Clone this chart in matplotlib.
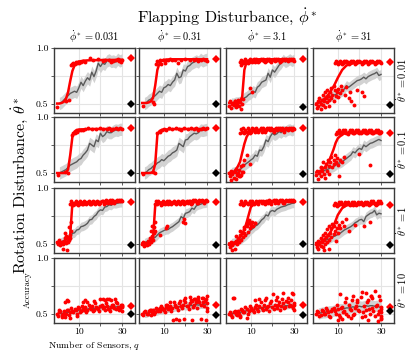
import matplotlib
matplotlib.use("Agg")
import matplotlib.pyplot as plt

plt.rcParams['font.family'] = 'cmr10'
plt.rcParams['mathtext.fontset'] = 'cm'
plt.rcParams['axes.unicode_minus'] = False

# ---- labels ----
col_labels = [r'$\dot{\phi}^* = 0.031$', r'$\dot{\phi}^* = 0.31$',
              r'$\dot{\phi}^* = 3.1$', r'$\dot{\phi}^* = 31$']
row_labels = [r'$\dot{\theta}^* = 0.01$', r'$\dot{\theta}^* = 0.1$',
              r'$\dot{\theta}^* = 1$', r'$\dot{\theta}^* = 10$']
x_ticks = [10, 20, 30]
x_tick_labels = ['10', '', '30']
y_ticks = [0.5, 0.75, 1.0]
y_tick_labels = ['0.5', '', '1.0']

# ---- fitted curve (red line), rows 1-3 ----
curve_x = [0, 1, 2, 3, 4, 5, 6, 7, 8, 9, 10, 12, 14, 17, 20, 25, 30]
curve_y = [
    [0.50, 0.50, 0.505, 0.515, 0.54, 0.60, 0.70, 0.79, 0.84, 0.865, 0.875, 0.882, 0.885, 0.887, 0.888, 0.889, 0.89],
    [0.505, 0.505, 0.505, 0.51, 0.52, 0.55, 0.66, 0.80, 0.86, 0.88, 0.89, 0.893, 0.895, 0.895, 0.895, 0.895, 0.895],
    [0.505, 0.505, 0.505, 0.507, 0.51, 0.52, 0.56, 0.80, 0.87, 0.885, 0.89, 0.893, 0.895, 0.895, 0.895, 0.895, 0.895],
    [0.50, 0.505, 0.515, 0.53, 0.545, 0.565, 0.59, 0.62, 0.65, 0.69, 0.73, 0.80, 0.84, 0.86, 0.865, 0.868, 0.87],
    [0.50, 0.50, 0.50, 0.50, 0.505, 0.53, 0.66, 0.82, 0.87, 0.885, 0.888, 0.89, 0.892, 0.893, 0.893, 0.893, 0.893],
    [0.50, 0.50, 0.50, 0.50, 0.502, 0.51, 0.58, 0.84, 0.875, 0.885, 0.888, 0.89, 0.892, 0.893, 0.893, 0.893, 0.893],
    [0.50, 0.505, 0.51, 0.53, 0.56, 0.60, 0.68, 0.76, 0.82, 0.855, 0.87, 0.88, 0.885, 0.888, 0.89, 0.892, 0.893],
    [0.505, 0.51, 0.52, 0.535, 0.55, 0.58, 0.61, 0.66, 0.71, 0.77, 0.81, 0.845, 0.86, 0.865, 0.868, 0.87, 0.87],
    [0.51, 0.51, 0.51, 0.515, 0.52, 0.53, 0.58, 0.86, 0.868, 0.87, 0.872, 0.873, 0.875, 0.876, 0.877, 0.878, 0.88],
    [0.505, 0.505, 0.505, 0.51, 0.52, 0.55, 0.84, 0.865, 0.87, 0.872, 0.873, 0.874, 0.875, 0.876, 0.877, 0.878, 0.88],
    [0.505, 0.505, 0.51, 0.52, 0.535, 0.56, 0.59, 0.63, 0.69, 0.76, 0.83, 0.865, 0.872, 0.875, 0.876, 0.878, 0.88],
    [0.51, 0.515, 0.52, 0.53, 0.545, 0.565, 0.59, 0.62, 0.66, 0.71, 0.76, 0.82, 0.845, 0.857, 0.862, 0.865, 0.866],
]

# ---- mean accuracy (gray line) and its spread ----
gray_x = [1, 2, 3, 4, 5, 6, 7, 8, 9, 10, 11, 12, 13, 14, 15,
          16, 17, 18, 19, 20, 21, 22, 23, 24, 25, 26, 27, 28, 29, 30]
gray_y = [
    [0.50, 0.51, 0.53, 0.55, 0.57, 0.59, 0.60, 0.61, 0.60, 0.64, 0.69, 0.66, 0.70, 0.73, 0.71, 0.78, 0.74, 0.79, 0.86, 0.83, 0.86, 0.85, 0.88, 0.89, 0.875, 0.88, 0.87, 0.895, 0.88, 0.89],
    [0.50, 0.51, 0.53, 0.54, 0.56, 0.57, 0.59, 0.61, 0.60, 0.64, 0.65, 0.67, 0.66, 0.69, 0.71, 0.77, 0.73, 0.74, 0.80, 0.79, 0.83, 0.84, 0.86, 0.87, 0.88, 0.87, 0.895, 0.88, 0.89, 0.895],
    [0.50, 0.50, 0.51, 0.51, 0.515, 0.53, 0.55, 0.56, 0.58, 0.59, 0.61, 0.60, 0.645, 0.66, 0.69, 0.70, 0.71, 0.77, 0.735, 0.80, 0.78, 0.81, 0.84, 0.86, 0.89, 0.87, 0.88, 0.895, 0.88, 0.89],
    [0.505, 0.51, 0.52, 0.535, 0.545, 0.555, 0.565, 0.575, 0.58, 0.59, 0.60, 0.61, 0.63, 0.66, 0.645, 0.66, 0.675, 0.69, 0.705, 0.71, 0.72, 0.736, 0.72, 0.74, 0.75, 0.76, 0.767, 0.78, 0.75, 0.76],
    [0.50, 0.51, 0.52, 0.53, 0.55, 0.57, 0.58, 0.59, 0.60, 0.62, 0.63, 0.66, 0.68, 0.705, 0.765, 0.75, 0.735, 0.795, 0.78, 0.855, 0.825, 0.84, 0.87, 0.86, 0.86, 0.875, 0.884, 0.88, 0.89, 0.89],
    [0.50, 0.51, 0.53, 0.54, 0.56, 0.57, 0.59, 0.60, 0.62, 0.61, 0.63, 0.65, 0.66, 0.68, 0.69, 0.705, 0.765, 0.75, 0.735, 0.795, 0.80, 0.825, 0.84, 0.855, 0.85, 0.86, 0.884, 0.88, 0.885, 0.89],
    [0.50, 0.505, 0.51, 0.52, 0.53, 0.55, 0.57, 0.586, 0.60, 0.616, 0.63, 0.66, 0.65, 0.705, 0.70, 0.735, 0.795, 0.78, 0.825, 0.855, 0.84, 0.85, 0.87, 0.86, 0.878, 0.87, 0.885, 0.89, 0.88, 0.89],
    [0.51, 0.515, 0.52, 0.525, 0.53, 0.54, 0.55, 0.557, 0.57, 0.587, 0.59, 0.60, 0.616, 0.63, 0.646, 0.66, 0.69, 0.68, 0.705, 0.72, 0.71, 0.75, 0.735, 0.75, 0.765, 0.77, 0.78, 0.79, 0.80, 0.79],
    [0.51, 0.52, 0.53, 0.54, 0.55, 0.56, 0.595, 0.60, 0.625, 0.63, 0.655, 0.66, 0.67, 0.685, 0.715, 0.72, 0.745, 0.76, 0.79, 0.805, 0.80, 0.83, 0.835, 0.85, 0.845, 0.863, 0.86, 0.865, 0.87, 0.87],
    [0.51, 0.52, 0.525, 0.536, 0.55, 0.56, 0.58, 0.60, 0.61, 0.62, 0.628, 0.63, 0.645, 0.655, 0.67, 0.685, 0.70, 0.745, 0.73, 0.774, 0.78, 0.79, 0.82, 0.81, 0.84, 0.85, 0.855, 0.863, 0.865, 0.87],
    [0.51, 0.515, 0.52, 0.53, 0.536, 0.55, 0.565, 0.58, 0.60, 0.625, 0.64, 0.66, 0.67, 0.69, 0.715, 0.73, 0.76, 0.75, 0.79, 0.80, 0.79, 0.81, 0.82, 0.83, 0.835, 0.84, 0.85, 0.855, 0.863, 0.865],
    [0.515, 0.52, 0.525, 0.53, 0.54, 0.545, 0.555, 0.566, 0.575, 0.585, 0.595, 0.61, 0.625, 0.635, 0.645, 0.655, 0.67, 0.69, 0.70, 0.715, 0.72, 0.70, 0.745, 0.76, 0.774, 0.78, 0.80, 0.76, 0.775, 0.77],
    [0.50, 0.50, 0.505, 0.51, 0.51, 0.515, 0.52, 0.52, 0.525, 0.53, 0.53, 0.535, 0.54, 0.54, 0.545, 0.55, 0.545, 0.55, 0.555, 0.55, 0.555, 0.56, 0.555, 0.56, 0.56, 0.555, 0.56, 0.56, 0.565, 0.56],
    [0.50, 0.50, 0.51, 0.51, 0.515, 0.52, 0.52, 0.53, 0.53, 0.535, 0.54, 0.545, 0.55, 0.55, 0.555, 0.56, 0.56, 0.565, 0.57, 0.565, 0.57, 0.575, 0.57, 0.575, 0.58, 0.575, 0.58, 0.58, 0.585, 0.58],
    [0.50, 0.50, 0.505, 0.51, 0.51, 0.515, 0.52, 0.525, 0.53, 0.53, 0.535, 0.54, 0.545, 0.545, 0.55, 0.555, 0.55, 0.555, 0.56, 0.56, 0.565, 0.56, 0.565, 0.57, 0.565, 0.57, 0.57, 0.575, 0.57, 0.575],
    [0.50, 0.505, 0.51, 0.51, 0.515, 0.52, 0.52, 0.525, 0.53, 0.535, 0.54, 0.54, 0.545, 0.55, 0.55, 0.555, 0.56, 0.555, 0.56, 0.565, 0.56, 0.565, 0.57, 0.565, 0.57, 0.57, 0.565, 0.57, 0.56, 0.55],
]
gray_spread = [0.055, 0.055, 0.05, 0.045,
               0.055, 0.055, 0.05, 0.045,
               0.04, 0.04, 0.04, 0.04,
               0.025, 0.035, 0.03, 0.05]

# ---- individual runs (red dots): scattered points ----
dots_x = [
    [0, 4, 5.5, 6.5, 7, 7.5, 8, 8.5, 9, 9.5, 10, 11, 12, 13, 15, 16.5, 19, 21, 22, 24, 25, 26, 27, 28, 28.5, 29, 29.5, 30],
    [0.3, 5, 5.5, 6.3, 7, 8, 8.8, 9.5, 10.4, 11, 12, 13, 14, 15, 16.5, 18, 20, 22, 24, 25, 26, 27, 28, 29, 30],
    [0, 0.5, 1, 1.5, 2, 2.5, 3, 3.5, 4, 4.5, 5, 5.5, 6, 6.5, 2.7, 9.6, 10.5, 5.6],
    [0, 0.5, 1, 1, 1.5, 2, 2, 2.5, 3, 3, 3.5, 4, 4, 4.5, 5, 5, 5.5, 6, 6, 6.5, 7, 7, 7.5, 8, 8, 8.5, 9, 9.5, 10, 10, 11, 11.5, 12, 13.5, 15, 16.1, 17.6, 14, 15.5, 19, 21, 22],
    [0.5, 3.6, 5, 6.7, 7.2, 8.2, 9, 10, 11, 12, 13, 14.4, 16, 18, 20, 21, 23, 24, 25, 26, 27, 28, 29, 30],
    [0.35, 5, 6, 7, 8, 9, 10, 11, 12.5, 14, 15.5, 17, 18, 19.5, 21, 22.5, 24, 25, 26, 27, 28, 29, 30],
    [0, 0.5, 1, 1.5, 2, 2.5, 3, 3.5, 4, 4.5, 5, 5.5, 6, 6.5, 1, 3, 5.6, 6.5, 7, 8, 9.5, 4.5],
    [0, 0.5, 1, 1.5, 2, 2, 2.5, 3, 3.5, 4, 4, 4.5, 5, 5.5, 6, 6, 6.5, 7, 7.5, 8, 8, 8.5, 9, 9.5, 10, 10.4, 11, 12, 13, 25, 20],
    [0, 0.5, 1, 1.5, 2, 2.5, 3, 3.5, 4, 4.5, 5, 5.5, 6, 6.5, 2.8, 4.4, 3.6, 4.2, 5.5, 6, 6.5],
    [0, 0.5, 1, 1.5, 2, 2.5, 3, 3.5, 4, 4.5, 5, 5.5, 6, 5.5, 6, 11, 11.5, 19, 19.5, 20, 8, 4, 4.5],
    [0, 0.5, 1, 1.5, 2, 2.5, 3, 3.5, 4, 4.5, 5, 5.5, 6, 6.5, 7, 7.5, 8, 8.5, 9, 9.5, 10, 10.5, 11, 12, 6.8, 8.4, 9.2, 10, 11.9, 7, 5, 3, 1.5],
    [0, 0.5, 1, 1, 1.5, 2, 2, 2.5, 3, 3, 3.5, 4, 4, 4.5, 5, 5, 5.5, 6, 6, 6.5, 7, 7, 7.5, 8, 8, 8.5, 9, 9.5, 10, 10.5, 11, 12, 13, 14, 15, 18, 22, 25, 3.5, 6, 9],
    [3.6, 5.1, 4.5, 13, 14, 20, 21, 22, 23, 24, 25, 26.8, 2, 6, 9, 12, 17, 27, 30, 30, 30, 1],
    [14.2, 15.5, 17, 19.5, 23, 27, 29.5, 20, 22, 24, 26, 28, 30, 30, 30, 4, 8, 11, 13],
    [1.7, 2.2, 20.2, 24.8, 29.1, 29.6, 17, 12, 8, 5, 14, 22, 27, 30, 30],
    [10.8, 17, 23.2, 25.5, 27, 10, 28.8, 30, 30, 30, 30, 30, 14, 19, 21, 24, 26, 29, 12, 16],
]
dots_y = [
    [0.47, 0.52, 0.53, 0.84, 0.85, 0.86, 0.85, 0.87, 0.86, 0.87, 0.86, 0.87, 0.88, 0.87, 0.905, 0.89, 0.9, 0.88, 0.89, 0.89, 0.87, 0.88, 0.89, 0.9, 0.88, 0.89, 0.87, 0.89],
    [0.48, 0.51, 0.5, 0.85, 0.88, 0.89, 0.85, 0.89, 0.86, 0.89, 0.89, 0.9, 0.89, 0.89, 0.86, 0.89, 0.9, 0.89, 0.89, 0.9, 0.88, 0.89, 0.9, 0.89, 0.88],
    [0.48, 0.52, 0.46, 0.50, 0.49, 0.52, 0.47, 0.50, 0.53, 0.48, 0.51, 0.45, 0.50, 0.54, 0.52, 0.64, 0.60, 0.845],
    [0.50, 0.46, 0.52, 0.48, 0.55, 0.50, 0.45, 0.53, 0.58, 0.49, 0.52, 0.60, 0.47, 0.55, 0.51, 0.62, 0.57, 0.53, 0.48, 0.60, 0.55, 0.64, 0.58, 0.52, 0.66, 0.62, 0.57, 0.60, 0.56, 0.63, 0.59, 0.66, 0.62, 0.58, 0.55, 0.52, 0.49, 0.65, 0.60, 0.62, 0.60, 0.57],
    [0.48, 0.51, 0.5, 0.84, 0.86, 0.855, 0.87, 0.88, 0.885, 0.88, 0.89, 0.9, 0.89, 0.89, 0.9, 0.89, 0.89, 0.9, 0.88, 0.89, 0.9, 0.89, 0.9, 0.89],
    [0.49, 0.51, 0.5, 0.86, 0.87, 0.88, 0.89, 0.885, 0.9, 0.89, 0.9, 0.89, 0.88, 0.9, 0.89, 0.9, 0.89, 0.9, 0.885, 0.89, 0.9, 0.89, 0.9],
    [0.50, 0.47, 0.52, 0.49, 0.46, 0.51, 0.54, 0.48, 0.50, 0.53, 0.47, 0.56, 0.51, 0.57, 0.44, 0.45, 0.48, 0.51, 0.62, 0.66, 0.58, 0.47],
    [0.48, 0.52, 0.45, 0.50, 0.55, 0.47, 0.52, 0.60, 0.49, 0.55, 0.46, 0.58, 0.52, 0.62, 0.56, 0.49, 0.60, 0.64, 0.55, 0.62, 0.58, 0.66, 0.60, 0.63, 0.57, 0.47, 0.62, 0.60, 0.64, 0.57, 0.67],
    [0.52, 0.50, 0.54, 0.49, 0.52, 0.50, 0.53, 0.55, 0.51, 0.56, 0.52, 0.54, 0.58, 0.62, 0.46, 0.445, 0.60, 0.57, 0.65, 0.55, 0.70],
    [0.50, 0.52, 0.48, 0.51, 0.49, 0.53, 0.50, 0.55, 0.52, 0.57, 0.54, 0.60, 0.62, 0.65, 0.70, 0.64, 0.66, 0.70, 0.72, 0.69, 0.58, 0.62, 0.66],
    [0.50, 0.47, 0.52, 0.49, 0.51, 0.46, 0.53, 0.50, 0.55, 0.52, 0.58, 0.54, 0.60, 0.56, 0.63, 0.58, 0.66, 0.61, 0.69, 0.64, 0.67, 0.70, 0.66, 0.69, 0.655, 0.685, 0.715, 0.67, 0.685, 0.60, 0.62, 0.57, 0.45],
    [0.50, 0.47, 0.53, 0.46, 0.50, 0.55, 0.48, 0.52, 0.58, 0.47, 0.54, 0.60, 0.50, 0.56, 0.52, 0.63, 0.58, 0.54, 0.66, 0.60, 0.56, 0.64, 0.68, 0.59, 0.66, 0.62, 0.70, 0.64, 0.60, 0.67, 0.64, 0.70, 0.66, 0.72, 0.62, 0.67, 0.66, 0.70, 0.45, 0.46, 0.53],
    [0.60, 0.61, 0.62, 0.62, 0.60, 0.63, 0.63, 0.62, 0.63, 0.63, 0.62, 0.63, 0.47, 0.46, 0.48, 0.60, 0.61, 0.60, 0.52, 0.56, 0.58, 0.53],
    [0.44, 0.45, 0.44, 0.45, 0.44, 0.45, 0.44, 0.64, 0.65, 0.63, 0.65, 0.64, 0.66, 0.55, 0.52, 0.53, 0.55, 0.58, 0.60],
    [0.64, 0.64, 0.67, 0.68, 0.68, 0.67, 0.64, 0.62, 0.46, 0.47, 0.63, 0.65, 0.64, 0.58, 0.53],
    [0.67, 0.66, 0.68, 0.66, 0.70, 0.44, 0.43, 0.45, 0.48, 0.51, 0.54, 0.56, 0.64, 0.62, 0.69, 0.44, 0.64, 0.66, 0.45, 0.46],
]

# ---- individual runs (red dots): dense bands, two staggered rows ----
band_a_x = [
    [], [],
    [5, 6, 7, 8, 9, 10, 11, 12, 13, 14, 15, 16, 17, 18, 19, 20, 21, 22, 23, 24, 25, 26, 27, 28, 29, 30],
    [8.5, 9.5, 10.5, 11.5, 12.5, 13.5, 14.5, 15.5, 16.5, 17.5, 18.5, 19.5, 20.5, 21.5, 22.5, 23.5, 24.5, 25.5, 26.5, 27.5, 28.5, 29.5],
    [], [],
    [5, 6, 7, 8, 9, 10, 11, 12, 13, 14, 15, 16, 17, 18, 19, 20, 21, 22, 23, 24, 25, 26, 27, 28, 29, 30],
    [9, 10, 11, 12, 13, 14, 15, 16, 17, 18, 19, 20, 21, 22, 23, 24, 25, 26, 27, 28, 29, 30],
    [6, 7, 8, 9, 10, 11, 12, 13, 14, 15, 16, 17, 18, 19, 20, 21, 22, 23, 24, 25, 26, 27, 28, 29, 30],
    [6, 7, 8, 9, 10, 11, 12, 13, 14, 15, 16, 17, 18, 19, 20, 21, 22, 23, 24, 25, 26, 27, 28, 29, 30],
    [5, 6, 7, 8, 9, 10, 11, 12, 13, 14, 15, 16, 17, 18, 19, 20, 21, 22, 23, 24, 25, 26, 27, 28, 29, 30],
    [8, 9, 10, 11, 12, 13, 14, 15, 16, 17, 18, 19, 20, 21, 22, 23, 24, 25, 26, 27, 28, 29, 30],
    [0, 1, 2, 3, 4, 5, 6, 7, 8, 9, 10, 11, 12, 13, 14, 15, 16, 17, 18, 19, 20, 21, 22, 23, 24, 25, 26, 27, 28, 29, 30],
    [0, 1, 2, 3, 4, 5, 6, 7, 8, 9, 10, 11, 12, 13, 14, 15, 16, 17, 18, 19, 20, 21, 22, 23, 24, 25, 26, 27, 28, 29, 30],
    [0, 1, 2, 3, 4, 5, 6, 7, 8, 9, 10, 11, 12, 13, 14, 15, 16, 17, 18, 19, 20, 21, 22, 23, 24, 25, 26, 27, 28, 29, 30],
    [0, 1, 2, 3, 4, 5, 6, 7, 8, 9, 10, 11, 12, 13, 14, 15, 16, 17, 18, 19, 20, 21, 22, 23, 24, 25, 26, 27, 28, 29, 30],
]
band_a_y = [
    [], [],
    [0.87, 0.88, 0.87, 0.88, 0.87, 0.88, 0.88, 0.87, 0.88, 0.88, 0.89, 0.88, 0.88, 0.89, 0.88, 0.89, 0.88, 0.89, 0.89, 0.88, 0.89, 0.89, 0.88, 0.89, 0.89, 0.88],
    [0.86, 0.87, 0.86, 0.87, 0.86, 0.87, 0.87, 0.86, 0.87, 0.87, 0.86, 0.87, 0.87, 0.86, 0.87, 0.87, 0.86, 0.87, 0.87, 0.86, 0.87, 0.87],
    [], [],
    [0.86, 0.87, 0.86, 0.87, 0.88, 0.87, 0.88, 0.87, 0.88, 0.88, 0.87, 0.88, 0.88, 0.89, 0.88, 0.88, 0.89, 0.88, 0.89, 0.88, 0.89, 0.89, 0.88, 0.89, 0.88, 0.89],
    [0.85, 0.86, 0.87, 0.86, 0.87, 0.86, 0.87, 0.87, 0.86, 0.87, 0.87, 0.86, 0.87, 0.87, 0.86, 0.87, 0.87, 0.86, 0.87, 0.87, 0.86, 0.87],
    [0.86, 0.87, 0.86, 0.87, 0.86, 0.87, 0.86, 0.87, 0.87, 0.86, 0.87, 0.87, 0.87, 0.87, 0.87, 0.88, 0.87, 0.88, 0.88, 0.87, 0.88, 0.88, 0.88, 0.88, 0.88],
    [0.86, 0.86, 0.87, 0.86, 0.87, 0.87, 0.86, 0.87, 0.87, 0.87, 0.87, 0.87, 0.87, 0.88, 0.87, 0.87, 0.88, 0.87, 0.88, 0.88, 0.87, 0.88, 0.88, 0.88, 0.88],
    [0.86, 0.87, 0.86, 0.87, 0.87, 0.86, 0.87, 0.87, 0.87, 0.88, 0.87, 0.87, 0.88, 0.87, 0.88, 0.88, 0.87, 0.88, 0.88, 0.88, 0.87, 0.88, 0.88, 0.88, 0.88, 0.88],
    [0.85, 0.86, 0.85, 0.86, 0.86, 0.85, 0.86, 0.86, 0.86, 0.85, 0.86, 0.86, 0.86, 0.86, 0.86, 0.86, 0.86, 0.86, 0.87, 0.86, 0.86, 0.87, 0.87],
    [0.50, 0.51, 0.49, 0.52, 0.50, 0.53, 0.51, 0.52, 0.54, 0.50, 0.55, 0.52, 0.54, 0.56, 0.53, 0.55, 0.57, 0.53, 0.56, 0.54, 0.57, 0.55, 0.53, 0.57, 0.54, 0.56, 0.58, 0.54, 0.56, 0.55, 0.57],
    [0.50, 0.51, 0.50, 0.52, 0.49, 0.53, 0.51, 0.54, 0.52, 0.55, 0.53, 0.56, 0.54, 0.57, 0.55, 0.58, 0.56, 0.59, 0.57, 0.58, 0.60, 0.57, 0.59, 0.61, 0.58, 0.60, 0.62, 0.58, 0.60, 0.61, 0.59],
    [0.50, 0.49, 0.51, 0.50, 0.52, 0.48, 0.53, 0.51, 0.54, 0.52, 0.55, 0.53, 0.56, 0.54, 0.57, 0.55, 0.58, 0.54, 0.57, 0.59, 0.56, 0.58, 0.55, 0.60, 0.57, 0.59, 0.56, 0.60, 0.58, 0.57, 0.59],
    [0.50, 0.51, 0.49, 0.52, 0.50, 0.53, 0.48, 0.52, 0.55, 0.50, 0.54, 0.47, 0.56, 0.52, 0.50, 0.58, 0.53, 0.49, 0.55, 0.60, 0.52, 0.47, 0.57, 0.53, 0.62, 0.50, 0.55, 0.48, 0.58, 0.52, 0.46],
]
band_b_x = [
    [], [],
    [5.5, 6.5, 7.5, 8.5, 9.5, 10.5, 11.5, 12.5, 13.5, 14.5, 15.5, 16.5, 17.5, 18.5, 19.5, 20.5, 21.5, 22.5, 23.5, 24.5, 25.5, 26.5, 27.5, 28.5, 29.5],
    [9, 10, 11, 12, 13, 14, 15, 16, 17, 18, 19, 20, 21, 22, 23, 24, 25, 26, 27, 28, 29, 30],
    [], [],
    [5.5, 6.5, 7.5, 8.5, 9.5, 10.5, 11.5, 12.5, 13.5, 14.5, 15.5, 16.5, 17.5, 18.5, 19.5, 20.5, 21.5, 22.5, 23.5, 24.5, 25.5, 26.5, 27.5, 28.5, 29.5],
    [9.5, 10.5, 11.5, 12.5, 13.5, 14.5, 15.5, 16.5, 17.5, 18.5, 19.5, 20.5, 21.5, 22.5, 23.5, 24.5, 25.5, 26.5, 27.5, 28.5, 29.5],
    [6.5, 7.5, 8.5, 9.5, 10.5, 11.5, 12.5, 13.5, 14.5, 15.5, 16.5, 17.5, 18.5, 19.5, 20.5, 21.5, 22.5, 23.5, 24.5, 25.5, 26.5, 27.5, 28.5, 29.5],
    [6.5, 7.5, 8.5, 9.5, 10.5, 11.5, 12.5, 13.5, 14.5, 15.5, 16.5, 17.5, 18.5, 19.5, 20.5, 21.5, 22.5, 23.5, 24.5, 25.5, 26.5, 27.5, 28.5, 29.5],
    [5.5, 6.5, 7.5, 8.5, 9.5, 10.5, 11.5, 12.5, 13.5, 14.5, 15.5, 16.5, 17.5, 18.5, 19.5, 20.5, 21.5, 22.5, 23.5, 24.5, 25.5, 26.5, 27.5, 28.5, 29.5],
    [8.5, 9.5, 10.5, 11.5, 12.5, 13.5, 14.5, 15.5, 16.5, 17.5, 18.5, 19.5, 20.5, 21.5, 22.5, 23.5, 24.5, 25.5, 26.5, 27.5, 28.5, 29.5],
    [0.5, 1.5, 2.5, 3.5, 4.5, 5.5, 6.5, 7.5, 8.5, 9.5, 10.5, 11.5, 12.5, 13.5, 14.5, 15.5, 16.5, 17.5, 18.5, 19.5, 20.5, 21.5, 22.5, 23.5, 24.5, 25.5, 26.5, 27.5, 28.5, 29.5],
    [0.5, 1.5, 2.5, 3.5, 4.5, 5.5, 6.5, 7.5, 8.5, 9.5, 10.5, 11.5, 12.5, 13.5, 14.5, 15.5, 16.5, 17.5, 18.5, 19.5, 20.5, 21.5, 22.5, 23.5, 24.5, 25.5, 26.5, 27.5, 28.5, 29.5],
    [0.5, 1.5, 2.5, 3.5, 4.5, 5.5, 6.5, 7.5, 8.5, 9.5, 10.5, 11.5, 12.5, 13.5, 14.5, 15.5, 16.5, 17.5, 18.5, 19.5, 20.5, 21.5, 22.5, 23.5, 24.5, 25.5, 26.5, 27.5, 28.5, 29.5],
    [0.5, 1.5, 2.5, 3.5, 4.5, 5.5, 6.5, 7.5, 8.5, 9.5, 10.5, 11.5, 12.5, 13.5, 14.5, 15.5, 16.5, 17.5, 18.5, 19.5, 20.5, 21.5, 22.5, 23.5, 24.5, 25.5, 26.5, 27.5, 28.5, 29.5],
]
band_b_y = [
    [], [],
    [0.89, 0.86, 0.895, 0.86, 0.9, 0.87, 0.895, 0.9, 0.87, 0.9, 0.895, 0.87, 0.9, 0.9, 0.875, 0.9, 0.9, 0.9, 0.875, 0.9, 0.9, 0.895, 0.9, 0.9, 0.9],
    [0.88, 0.85, 0.88, 0.85, 0.88, 0.88, 0.85, 0.88, 0.88, 0.855, 0.88, 0.88, 0.855, 0.88, 0.88, 0.855, 0.88, 0.88, 0.855, 0.88, 0.88, 0.86],
    [], [],
    [0.89, 0.9, 0.885, 0.9, 0.86, 0.9, 0.895, 0.9, 0.865, 0.9, 0.9, 0.87, 0.9, 0.9, 0.9, 0.87, 0.9, 0.9, 0.9, 0.9, 0.87, 0.9, 0.9, 0.9, 0.9],
    [0.87, 0.885, 0.85, 0.885, 0.885, 0.85, 0.885, 0.885, 0.855, 0.885, 0.885, 0.855, 0.885, 0.885, 0.855, 0.885, 0.885, 0.855, 0.885, 0.885, 0.855],
    [0.88, 0.85, 0.88, 0.85, 0.88, 0.855, 0.88, 0.855, 0.88, 0.86, 0.88, 0.86, 0.885, 0.86, 0.885, 0.86, 0.89, 0.865, 0.89, 0.89, 0.865, 0.89, 0.89, 0.89],
    [0.88, 0.88, 0.85, 0.88, 0.855, 0.88, 0.885, 0.855, 0.88, 0.86, 0.885, 0.86, 0.885, 0.86, 0.885, 0.885, 0.86, 0.89, 0.89, 0.865, 0.89, 0.89, 0.865, 0.89],
    [0.88, 0.85, 0.88, 0.855, 0.88, 0.885, 0.855, 0.885, 0.86, 0.885, 0.885, 0.86, 0.885, 0.89, 0.86, 0.89, 0.89, 0.865, 0.89, 0.89, 0.865, 0.89, 0.89, 0.89, 0.89],
    [0.87, 0.84, 0.875, 0.875, 0.845, 0.875, 0.875, 0.845, 0.875, 0.875, 0.85, 0.875, 0.875, 0.85, 0.875, 0.875, 0.85, 0.88, 0.88, 0.85, 0.88, 0.88],
    [0.48, 0.52, 0.50, 0.47, 0.53, 0.49, 0.55, 0.51, 0.53, 0.56, 0.51, 0.57, 0.53, 0.51, 0.58, 0.54, 0.52, 0.59, 0.55, 0.52, 0.58, 0.56, 0.59, 0.54, 0.52, 0.58, 0.55, 0.59, 0.53, 0.58],
    [0.49, 0.52, 0.50, 0.53, 0.51, 0.50, 0.55, 0.52, 0.57, 0.54, 0.51, 0.58, 0.55, 0.52, 0.60, 0.56, 0.53, 0.61, 0.55, 0.62, 0.57, 0.54, 0.62, 0.56, 0.63, 0.55, 0.60, 0.64, 0.57, 0.63],
    [0.51, 0.47, 0.52, 0.49, 0.50, 0.54, 0.51, 0.56, 0.50, 0.57, 0.53, 0.51, 0.58, 0.52, 0.60, 0.53, 0.62, 0.56, 0.52, 0.61, 0.54, 0.62, 0.58, 0.53, 0.63, 0.55, 0.61, 0.57, 0.62, 0.55],
    [0.52, 0.48, 0.53, 0.50, 0.55, 0.51, 0.47, 0.54, 0.52, 0.58, 0.49, 0.55, 0.51, 0.60, 0.48, 0.54, 0.62, 0.50, 0.57, 0.53, 0.65, 0.51, 0.48, 0.60, 0.54, 0.66, 0.52, 0.57, 0.50, 0.62],
]

# ---- reference points at the far right (diamonds) ----
ref_x = 34
red_ref_y = [0.91, 0.895, 0.895, 0.873,
             0.90, 0.90, 0.90, 0.86,
             0.872, 0.872, 0.878, 0.848,
             0.565, 0.575, 0.575, 0.56]
black_ref_y = [0.50, 0.50, 0.472, 0.485,
               0.50, 0.50, 0.49, 0.49,
               0.49, 0.49, 0.50, 0.49,
               0.50, 0.49, 0.49, 0.52]

W, H = 415, 354
col_left = [54, 139, 226, 313]
row_top = [47.5, 117, 188, 257.5]
pw, ph = 81, 65

fig = plt.figure(figsize=(W / 100, H / 100), dpi=100)

for r in range(4):
    for c in range(4):
        p = r * 4 + c
        ax = fig.add_axes([col_left[c] / W, 1 - (row_top[r] + ph) / H, pw / W, ph / H])
        ax.set_xlim(-1.5, 36)
        ax.set_ylim(0.42, 1.0)
        ax.set_xticks(x_ticks)
        ax.set_yticks(y_ticks)
        ax.set_xticklabels(x_tick_labels if r == 3 else [])
        ax.set_yticklabels(y_tick_labels if c == 0 else [])
        ax.tick_params(labelsize=7, length=2, width=0.6, color='#444444', pad=2)
        ax.grid(True, color='#e4e4e4', linewidth=0.8)
        ax.set_axisbelow(True)
        for s in ax.spines.values():
            s.set_color('#3a3a3a')
            s.set_linewidth(1.0)

        lo = [v - gray_spread[p] for v in gray_y[p]]
        hi = [v + gray_spread[p] for v in gray_y[p]]
        ax.fill_between(gray_x, lo, hi, color='#d2d2d2', lw=0, zorder=1)
        ax.plot(gray_x, gray_y[p], color='#5a5a5a', lw=1.0, zorder=2)

        for xs, ys in [(dots_x[p], dots_y[p]), (band_a_x[p], band_a_y[p]),
                       (band_b_x[p], band_b_y[p])]:
            ax.plot(xs, ys, 'o', color='#ff0000', ms=2.8, mew=0, zorder=3)

        if r < 3:
            ax.plot(curve_x, curve_y[p], color='#ff0000', lw=1.8, zorder=4)

        ax.errorbar([ref_x], [red_ref_y[p]], yerr=0.02, fmt='D', color='#ff0000',
                    ms=3.6, mew=0, elinewidth=1.4, capsize=0, zorder=5)
        ax.errorbar([ref_x], [black_ref_y[p]], yerr=0.02, fmt='D', color='black',
                    ms=3.6, mew=0, elinewidth=1.4, capsize=0, zorder=5)

        if r == 0:
            ax.set_title(col_labels[c], fontsize=7.5, pad=5)
        if c == 3:
            ax.text(1.1, 0.5, row_labels[r], transform=ax.transAxes, rotation=90,
                    ha='center', va='center', fontsize=7.5)
        if r == 3 and c == 0:
            ax.set_ylabel('Accuracy', fontsize=6.5, labelpad=3)
            ax.set_xlabel(r'Number of Sensors, $q$', fontsize=7, labelpad=2)

fig.text(227 / W, 1 - 17 / H, r'Flapping Disturbance, $\dot{\phi}^*$',
         ha='center', va='center', fontsize=11.5)
fig.text(20 / W, 1 - 185 / H, r'Rotation Disturbance, $\dot{\theta}^*$',
         ha='center', va='center', rotation=90, fontsize=11.5)

fig.savefig('out.png', dpi=100)
